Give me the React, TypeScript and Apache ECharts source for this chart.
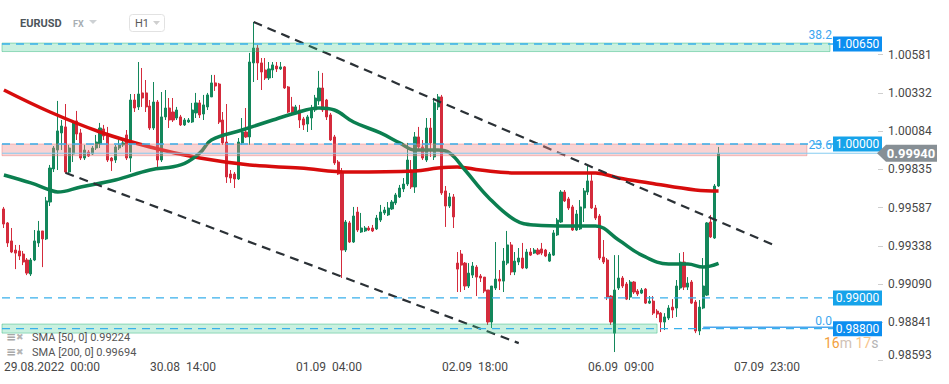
import React, { useEffect, useRef } from 'react';
import * as echarts from 'echarts';

// ---- axis / labels ----
const barCount = 228;
const categories = Array.from({ length: barCount }, (_, i) => String(i));
const tickIndices = [0, 38, 76, 114, 152, 190];
const tickTexts = ['29.08.2022  00:00', '30.08  14:00', '01.09  04:00', '02.09  18:00', '06.09  09:00', '07.09  23:00'];
const yTicks = [1.00581, 1.00332, 1.00084, 0.99835, 0.99587, 0.99338, 0.9909, 0.98841, 0.98593];
const yMin = 0.98593;
const yMax = 1.00936;

// ---- candles: [open, close, low, high] (H1) ----
const candles = [
  [0.99578, 0.99480, 0.99454, 0.99591], [0.99487, 0.99357, 0.99331, 0.99493], [0.99370, 0.99298, 0.99291, 0.99454],
  [0.99311, 0.99291, 0.99187, 0.99344], [0.99305, 0.99272, 0.99246, 0.99344], [0.99285, 0.99233, 0.99213, 0.99305],
  [0.99246, 0.99161, 0.99148, 0.99259], [0.99155, 0.99246, 0.99142, 0.99259], [0.99246, 0.99370, 0.99239, 0.99441],
  [0.99357, 0.99435, 0.99331, 0.99500], [0.99435, 0.99383, 0.99200, 0.99435], [0.99383, 0.99630, 0.99376, 0.99656],
  [0.99623, 0.99844, 0.99597, 0.99864], [0.99838, 0.99974, 0.99818, 0.99987], [0.99961, 1.00085, 0.99831, 1.00280],
  [1.00072, 1.00117, 0.99961, 1.00156], [1.00111, 0.99818, 0.99812, 1.00260], [0.99818, 0.99974, 0.99812, 0.99994],
  [0.99935, 1.00143, 0.99883, 1.00156], [1.00150, 1.00065, 1.00026, 1.00215], [1.00072, 0.99909, 0.99896, 1.00098],
  [0.99909, 0.99961, 0.99896, 0.99994], [0.99948, 0.99922, 0.99916, 0.99961], [0.99935, 0.99974, 0.99929, 0.99987],
  [0.99974, 1.00013, 0.99961, 1.00059], [1.00000, 1.00104, 0.99974, 1.00137], [1.00098, 1.00052, 1.00026, 1.00124],
  [1.00052, 0.99896, 0.99883, 1.00111], [0.99909, 0.99890, 0.99825, 0.99916], [0.99896, 0.99981, 0.99877, 0.99994],
  [0.99974, 0.99994, 0.99961, 1.00026], [0.99994, 1.00007, 0.99981, 1.00039], [1.00059, 0.99909, 0.99896, 1.00091],
  [0.99909, 1.00286, 0.99818, 1.00325], [1.00286, 1.00234, 1.00208, 1.00325], [1.00241, 1.00325, 1.00221, 1.00533],
  [1.00332, 1.00299, 1.00241, 1.00494], [1.00332, 1.00241, 1.00208, 1.00416], [1.00247, 1.00104, 1.00091, 1.00286],
  [1.00104, 1.00273, 1.00091, 1.00403], [1.00273, 0.99896, 0.99831, 1.00286], [0.99896, 1.00176, 0.99883, 1.00338],
  [1.00176, 1.00234, 1.00156, 1.00351], [1.00234, 1.00156, 1.00104, 1.00299], [1.00208, 1.00156, 1.00143, 1.00299],
  [1.00169, 1.00221, 1.00156, 1.00241], [1.00176, 1.00124, 1.00117, 1.00189], [1.00124, 1.00156, 1.00117, 1.00169],
  [1.00143, 1.00156, 1.00137, 1.00169], [1.00143, 1.00221, 1.00137, 1.00267], [1.00202, 1.00267, 1.00169, 1.00332],
  [1.00267, 1.00189, 1.00169, 1.00286], [1.00195, 1.00254, 1.00156, 1.00319], [1.00241, 1.00319, 1.00221, 1.00332],
  [1.00306, 1.00397, 1.00306, 1.00449], [1.00397, 1.00377, 1.00345, 1.00449], [1.00390, 1.00143, 1.00130, 1.00397],
  [1.00156, 1.00007, 0.99994, 1.00208], [1.00013, 0.99786, 0.99747, 1.00260], [0.99805, 0.99779, 0.99747, 0.99831],
  [0.99805, 0.99773, 0.99714, 0.99818], [0.99773, 1.00013, 0.99766, 1.00039], [1.00007, 1.00078, 0.99994, 1.00169],
  [1.00078, 1.00046, 1.00039, 1.00234], [1.00046, 1.00533, 0.99994, 1.00592], [1.00527, 1.00624, 1.00403, 1.00793],
  [1.00624, 1.00527, 1.00416, 1.00644], [1.00527, 1.00468, 1.00351, 1.00559], [1.00481, 1.00429, 1.00416, 1.00559],
  [1.00429, 1.00488, 1.00416, 1.00533], [1.00481, 1.00514, 1.00429, 1.00533], [1.00507, 1.00488, 1.00468, 1.00533],
  [1.00488, 1.00501, 1.00481, 1.00533], [1.00501, 1.00364, 1.00358, 1.00507], [1.00371, 1.00208, 1.00202, 1.00377],
  [1.00241, 1.00208, 1.00202, 1.00306], [1.00208, 1.00241, 1.00202, 1.00254], [1.00221, 1.00156, 1.00104, 1.00254],
  [1.00163, 1.00124, 1.00091, 1.00176], [1.00130, 1.00176, 1.00078, 1.00189], [1.00169, 1.00221, 1.00091, 1.00254],
  [1.00221, 1.00299, 1.00208, 1.00319], [1.00280, 1.00364, 1.00254, 1.00475], [1.00364, 1.00221, 1.00208, 1.00462],
  [1.00286, 1.00176, 1.00156, 1.00293], [1.00189, 1.00026, 1.00020, 1.00202], [1.00046, 0.99877, 0.99864, 1.00059],
  [0.99883, 0.99805, 0.99799, 0.99896], [0.99818, 0.99311, 0.99129, 0.99844], [0.99311, 0.99493, 0.99298, 0.99506],
  [0.99487, 0.99363, 0.99357, 0.99500], [0.99363, 0.99532, 0.99357, 0.99591], [0.99558, 0.99441, 0.99428, 0.99591],
  [0.99428, 0.99454, 0.99422, 0.99552], [0.99435, 0.99454, 0.99428, 0.99467], [0.99454, 0.99441, 0.99435, 0.99467],
  [0.99454, 0.99435, 0.99428, 0.99474], [0.99448, 0.99519, 0.99441, 0.99539], [0.99506, 0.99558, 0.99493, 0.99604],
  [0.99552, 0.99571, 0.99539, 0.99591], [0.99539, 0.99584, 0.99532, 0.99623], [0.99578, 0.99623, 0.99571, 0.99636],
  [0.99617, 0.99669, 0.99604, 0.99682], [0.99656, 0.99714, 0.99649, 0.99734], [0.99708, 0.99740, 0.99688, 0.99779],
  [0.99740, 0.99896, 0.99727, 1.00007], [0.99831, 0.99721, 0.99708, 0.99896], [0.99721, 1.00046, 0.99682, 1.00078],
  [1.00046, 0.99981, 0.99961, 1.00111], [0.99981, 0.99909, 0.99896, 1.00026], [0.99896, 1.00104, 0.99883, 1.00169],
  [1.00104, 1.00007, 0.99916, 1.00169], [0.99916, 1.00267, 0.99896, 1.00286], [1.00241, 1.00306, 1.00221, 1.00325],
  [1.00306, 0.99682, 0.99669, 1.00319], [0.99695, 0.99597, 0.99461, 0.99727], [0.99597, 0.99656, 0.99584, 0.99682],
  [0.99656, 0.99526, 0.99454, 0.99675], [0.99226, 0.99187, 0.99038, 0.99298], [0.99285, 0.99213, 0.99038, 0.99311],
  [0.99226, 0.99077, 0.99051, 0.99233], [0.99077, 0.99161, 0.99064, 0.99226], [0.99148, 0.99207, 0.99129, 0.99233],
  [0.99200, 0.99135, 0.99012, 0.99213], [0.99142, 0.99129, 0.99103, 0.99155], [0.99135, 0.99044, 0.99031, 0.99135],
  [0.99051, 0.98843, 0.98824, 0.99051], [0.98843, 0.99077, 0.98804, 0.99077], [0.99064, 0.99122, 0.99051, 0.99363],
  [0.99122, 0.99109, 0.99051, 0.99181], [0.99109, 0.99239, 0.99038, 0.99324], [0.99226, 0.99344, 0.99213, 0.99435],
  [0.99344, 0.99168, 0.99148, 0.99363], [0.99168, 0.99239, 0.99148, 0.99298], [0.99233, 0.99259, 0.99213, 0.99324],
  [0.99259, 0.99194, 0.99187, 0.99357], [0.99194, 0.99298, 0.99187, 0.99318], [0.99298, 0.99278, 0.99272, 0.99324],
  [0.99291, 0.99311, 0.99285, 0.99324], [0.99311, 0.99285, 0.99278, 0.99324], [0.99318, 0.99291, 0.99278, 0.99357],
  [0.99311, 0.99272, 0.99265, 0.99318], [0.99239, 0.99285, 0.99233, 0.99298], [0.99278, 0.99422, 0.99272, 0.99441],
  [0.99409, 0.99506, 0.99402, 0.99519], [0.99493, 0.99688, 0.99487, 0.99701], [0.99688, 0.99630, 0.99623, 0.99701],
  [0.99643, 0.99584, 0.99571, 0.99656], [0.99591, 0.99441, 0.99435, 0.99604], [0.99441, 0.99545, 0.99435, 0.99571],
  [0.99448, 0.99591, 0.99441, 0.99636], [0.99584, 0.99695, 0.99493, 0.99714], [0.99688, 0.99760, 0.99669, 0.99857],
  [0.99760, 0.99584, 0.99578, 0.99818], [0.99584, 0.99519, 0.99506, 0.99604], [0.99532, 0.99259, 0.99246, 0.99545],
  [0.99265, 0.99233, 0.99220, 0.99376], [0.99246, 0.99005, 0.98986, 0.99259], [0.99012, 0.98843, 0.98824, 0.99018],
  [0.98771, 0.99051, 0.98648, 0.99278], [0.99064, 0.99129, 0.99051, 0.99278], [0.99129, 0.99077, 0.99064, 0.99142],
  [0.99090, 0.98992, 0.98986, 0.99103], [0.99005, 0.99103, 0.98986, 0.99116], [0.99103, 0.99038, 0.99025, 0.99109],
  [0.99044, 0.99025, 0.99012, 0.99057], [0.99031, 0.99051, 0.99025, 0.99064], [0.99057, 0.98966, 0.98960, 0.99064],
  [0.98966, 0.98979, 0.98960, 0.99012], [0.98979, 0.98901, 0.98889, 0.99012], [0.98914, 0.98895, 0.98869, 0.98927],
  [0.98901, 0.98843, 0.98778, 0.98908], [0.98843, 0.98876, 0.98791, 0.98901], [0.98869, 0.98934, 0.98856, 0.98953],
  [0.98940, 0.98921, 0.98869, 0.98992], [0.98934, 0.99077, 0.98876, 0.99116], [0.99064, 0.99233, 0.99051, 0.99291],
  [0.99233, 0.99070, 0.99051, 0.99298], [0.99070, 0.99096, 0.99051, 0.99135], [0.99103, 0.98966, 0.98960, 0.99116],
  [0.98973, 0.98785, 0.98771, 0.98986], [0.98785, 0.98940, 0.98758, 0.98986], [0.98934, 0.99077, 0.98927, 0.99259],
  [0.99018, 0.99487, 0.99012, 0.99493], [0.99493, 0.99396, 0.99389, 0.99539], [0.99389, 0.99727, 0.99383, 0.99740],
  [0.99727, 0.99940, 0.99721, 0.99981],
];

// ---- moving averages: [bar index, value] ----
const sma50 = [
  [0, 0.99799], [7, 0.99747], [12, 0.99701], [14, 0.99688], [20, 0.99721], [29, 0.99766], [38, 0.99831],
  [46, 0.99864], [51, 0.99942], [54, 1.00026], [62, 1.00091], [70, 1.00156], [75, 1.00195], [82, 1.00234],
  [86, 1.00221], [91, 1.00143], [98, 1.00072], [103, 1.00007], [107, 0.99961], [113, 0.99961], [116, 0.99942],
  [120, 0.99831], [126, 0.99656], [133, 0.99506], [138, 0.99474], [147, 0.99467], [154, 0.99467], [160, 0.99376],
  [166, 0.99278], [173, 0.99220], [178, 0.99220], [182, 0.99200], [186, 0.99224],
];
const sma200 = [
  [0, 1.00351], [12, 1.00208], [25, 1.00078], [38, 0.99981], [51, 0.99909], [64, 0.99864], [77, 0.99844],
  [90, 0.99818], [107, 0.99825], [113, 0.99844], [118, 0.99851], [124, 0.99831], [133, 0.99812], [154, 0.99812],
  [160, 0.99779], [168, 0.99747], [180, 0.99701], [186, 0.99694],
];

// ---- drawn annotations ----
const trendUpper = [[65, 1.00793], [201, 0.99337]];
const trendLower = [[16, 0.99813], [134, 0.98706]];
const levelValues = [1.0065, 1.0, 0.99, 0.988];
const levelTexts = ['1.00650', '1.00000', '0.99000', '0.98800'];
const fibValues = [1.0065, 1.0, 0.988];
const fibTexts = ['38.2', '23.6', '0.0'];
const zoneTop = [1.00656, 1.00601];
const zonePink = [1.0, 0.99924];
const zoneBottom = [0.9883, 0.98771];
const zoneEnds = [215, 209, 170];
const fibZeroStart = 182;
const lastPrice = 0.9994;
const legendTexts = ['SMA [50, 0] 0.99224', 'SMA [200, 0] 0.99694'];

export default function App() {
  const ref = useRef<HTMLDivElement>(null);
  useEffect(() => {
    const chart = echarts.init(ref.current as HTMLDivElement, null, { renderer: 'svg' });
    const font = 'Roboto';
    chart.setOption({
      animation: false,
      grid: { left: 2, right: 71, top: 0, height: 360.5 },
      xAxis: {
        type: 'category',
        data: categories,
        boundaryGap: true,
        axisLine: { show: false },
        axisTick: { show: false },
        splitLine: { show: false },
        axisLabel: {
          interval: (idx: number) => tickIndices.includes(idx),
          formatter: (_v: string, idx: number) => {
            const k = tickIndices.indexOf(idx);
            return k >= 0 ? tickTexts[k] : '';
          },
          align: 'left',
          color: '#474747',
          fontSize: 12,
          fontFamily: font,
          margin: 0,
        },
      },
      yAxis: {
        type: 'value',
        position: 'right',
        min: yMin,
        max: yMax,
        splitLine: { show: false },
        axisLine: { show: false },
        axisTick: { show: true, length: 5, lineStyle: { color: '#cfcfcf' }, customValues: yTicks },
        axisLabel: {
          customValues: yTicks,
          formatter: (v: number) => (Math.abs(v - yMin) < 1e-7 ? `{low|${v.toFixed(5)}}` : v.toFixed(5)),
          color: '#474747',
          fontSize: 12,
          fontFamily: font,
          margin: 10,
          rich: {
            low: { color: '#474747', fontSize: 12, fontFamily: font, padding: [0, 0, 12, 0] },
          },
        },
      },
      series: [
        {
          type: 'candlestick',
          data: candles,
          barWidth: 2.6,
          z: 2,
          itemStyle: {
            color: '#13875b',
            color0: '#d42b3c',
            borderColor: '#13875b',
            borderColor0: '#d42b3c',
            borderWidth: 1,
          },
        },
        {
          type: 'line', data: sma200, smooth: 0.4, showSymbol: false, z: 3,
          lineStyle: { color: '#d70c0c', width: 3.5 },
        },
        {
          type: 'line', data: sma50, smooth: 0.4, showSymbol: false, z: 3,
          lineStyle: { color: '#0b7f50', width: 3.5 },
        },
        {
          type: 'line', data: trendUpper, showSymbol: false, z: 4,
          lineStyle: { color: '#2b3136', width: 2.2, type: [9, 6] },
        },
        {
          type: 'line', data: trendLower, showSymbol: false, z: 4,
          lineStyle: { color: '#2b3136', width: 2.2, type: [9, 6] },
        },
      ],
    });

    const X = (i: number) => chart.convertToPixel({ xAxisIndex: 0 }, i) as unknown as number;
    const Y = (v: number) => chart.convertToPixel({ yAxisIndex: 0 }, v) as unknown as number;
    const L = 2;
    const R = 878;
    const tagX = 833;
    const tagW = 49;
    const els: any[] = [];

    const zones = [zoneTop, zonePink, zoneBottom];
    const zoneFill = ['rgba(60,200,140,0.28)', 'rgba(240,140,140,0.38)', 'rgba(60,200,140,0.28)'];
    const zoneStroke = ['rgba(40,180,120,0.45)', 'rgba(230,120,120,0.45)', 'rgba(40,180,120,0.45)'];
    zones.forEach((z, k) => {
      const y1 = Y(z[0]);
      const y2 = Y(z[1]);
      els.push({
        type: 'rect', z: 10, silent: true,
        shape: { x: L, y: y1, width: X(zoneEnds[k]) - L, height: y2 - y1 },
        style: { fill: zoneFill[k], stroke: zoneStroke[k], lineWidth: 1 },
      });
    });

    // current price solid line
    const yl = Y(lastPrice);
    els.push({
      type: 'line', z: 11, silent: true,
      shape: { x1: L, y1: yl, x2: R, y2: yl },
      style: { stroke: '#86ccf1', lineWidth: 1 },
    });

    // fib 0.0 solid line
    const y0 = Y(fibValues[2]) - 1.5;
    els.push({
      type: 'line', z: 11, silent: true,
      shape: { x1: X(fibZeroStart), y1: y0, x2: tagX, y2: y0 },
      style: { stroke: '#4aa6ee', lineWidth: 1.5 },
    });

    // dashed level lines + tags
    const tagColors = ['#0c8ef0', '#16a3ea', '#16a3ea', '#0c8ef0'];
    levelValues.forEach((v, k) => {
      const y = Y(v);
      els.push({
        type: 'line', z: 12, silent: true,
        shape: { x1: L, y1: y, x2: tagX, y2: y },
        style: { stroke: '#38b0ec', lineWidth: 1.3, lineDash: [8, 6] },
      });
      els.push({
        type: 'rect', z: 13, silent: true,
        shape: { x: tagX, y: y - 7.5, width: tagW, height: 15 },
        style: { fill: tagColors[k] },
      });
      els.push({
        type: 'text', z: 14, silent: true,
        style: {
          text: levelTexts[k], x: tagX + tagW / 2, y: y,
          fill: '#ffffff', font: '12px Roboto',
          align: 'center', verticalAlign: 'middle', textAlign: 'center', textVerticalAlign: 'middle',
        },
      });
    });

    // fib labels
    const fibOffsets = [-9, 1, -8];
    fibValues.forEach((v, k) => {
      els.push({
        type: 'text', z: 14, silent: true,
        style: {
          text: fibTexts[k], x: tagX - 1, y: Y(v) + fibOffsets[k],
          fill: '#3aa6ef', font: '12px Roboto',
          align: 'right', verticalAlign: 'middle', textAlign: 'right', textVerticalAlign: 'middle',
        },
      });
    });

    // current price tag
    els.push({
      type: 'polygon', z: 14, silent: true,
      shape: { points: [[877, yl], [886, yl - 8.5], [937, yl - 8.5], [937, yl + 8.5], [886, yl + 8.5]] },
      style: { fill: '#878f95' },
    });
    els.push({
      type: 'text', z: 15, silent: true,
      style: {
        text: lastPrice.toFixed(5), x: 911, y: yl,
        fill: '#ffffff', font: 'bold 13px Roboto',
        align: 'center', verticalAlign: 'middle', textAlign: 'center', textVerticalAlign: 'middle',
      },
    });

    // timer
    els.push({
      type: 'text', z: 15, silent: true,
      style: {
        text: '{a|16}{b|m} {c|17}{d|s}', x: 824, y: 343,
        font: '14px Roboto', align: 'left', verticalAlign: 'middle', textAlign: 'left', textVerticalAlign: 'middle',
        rich: {
          a: { fill: '#f3a03d', fontSize: 14, fontFamily: font },
          b: { fill: '#cfc2b6', fontSize: 14, fontFamily: font },
          c: { fill: '#f7c58c', fontSize: 14, fontFamily: font },
          d: { fill: '#b4b4b4', fontSize: 14, fontFamily: font },
        },
      },
    });

    // header
    els.push({
      type: 'text', z: 15, silent: true,
      style: { text: 'EURUSD', x: 20, y: 23, fill: '#4d555b', font: 'bold 11px Roboto', verticalAlign: 'middle', textVerticalAlign: 'middle' },
    });
    els.push({
      type: 'text', z: 15, silent: true,
      style: { text: 'FX', x: 73, y: 24, fill: '#a7aeb3', font: 'bold 9px Roboto', verticalAlign: 'middle', textVerticalAlign: 'middle' },
    });
    els.push({
      type: 'polygon', z: 15, silent: true,
      shape: { points: [[89, 20], [97, 20], [93, 24]] },
      style: { fill: '#cdd1d4' },
    });
    els.push({
      type: 'rect', z: 15, silent: true,
      shape: { x: 129.5, y: 14.5, width: 35, height: 17, r: 3 },
      style: { fill: '#ffffff', stroke: '#e2e2e2', lineWidth: 1 },
    });
    els.push({
      type: 'text', z: 16, silent: true,
      style: { text: 'H1', x: 135, y: 23.5, fill: '#585858', font: '11px Roboto', verticalAlign: 'middle', textVerticalAlign: 'middle' },
    });
    els.push({
      type: 'polygon', z: 16, silent: true,
      shape: { points: [[153, 21], [160, 21], [156.5, 25]] },
      style: { fill: '#cfcfcf' },
    });

    // legend (bottom left)
    legendTexts.forEach((t, k) => {
      const y = 337 + k * 15;
      els.push({
        type: 'text', z: 16, silent: true,
        style: { text: '≡', x: 6, y: y, fill: '#a8a8a8', font: 'bold 12px DejaVu Sans', verticalAlign: 'middle', textVerticalAlign: 'middle' },
      });
      els.push({
        type: 'text', z: 16, silent: true,
        style: { text: '✖', x: 16, y: y, fill: '#b5b5b5', font: '9px DejaVu Sans', verticalAlign: 'middle', textVerticalAlign: 'middle' },
      });
      els.push({
        type: 'text', z: 16, silent: true,
        style: { text: t, x: 32, y: y, fill: '#555555', font: '11px Roboto', verticalAlign: 'middle', textVerticalAlign: 'middle' },
      });
    });

    chart.setOption({ graphic: { elements: els } });
    return () => chart.dispose();
  }, []);
  return <div ref={ref} style={{ position: 'absolute', left: 0, top: 0, width: 949, height: 384 }} />;
}
